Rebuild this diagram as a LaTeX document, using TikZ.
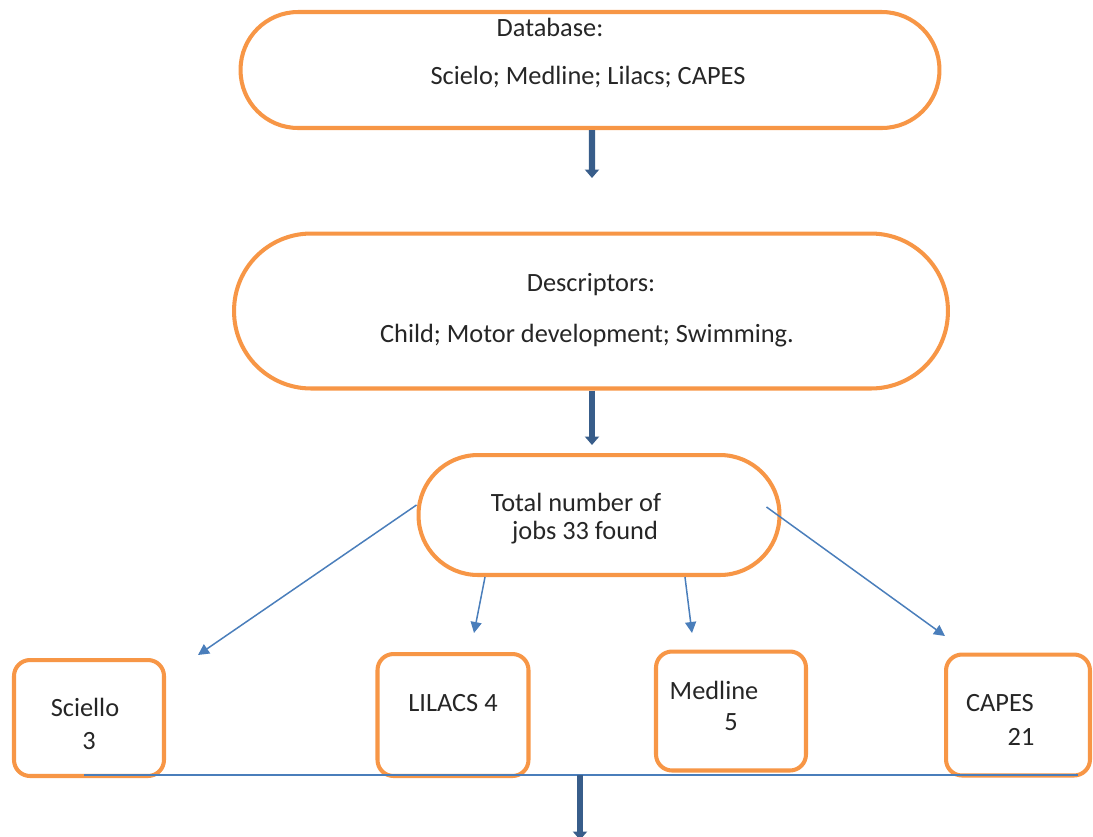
\documentclass[tikz,border=0pt]{standalone}
\usepackage{fontspec}
\setmainfont{Carlito}
\usetikzlibrary{arrows.meta}

\definecolor{boxorange}{HTML}{F79646}
\definecolor{linkblue}{HTML}{4A7EBB}
\definecolor{flowblue}{HTML}{385D8A}

\begin{document}
\begin{tikzpicture}[
    x=0.02cm, y=-0.02cm,
    font=\fontsize{15}{18}\selectfont,
    base/.style={draw=boxorange, line width=2.3pt, fill=white},
    pill/.style={base, rounded corners=1.15cm},
    card/.style={base, rounded corners=0.32cm},
    txt/.style={inner sep=0pt, text=black!85},
    flow/.style={-{Triangle[length=1.7mm, width=2.8mm]}, line width=3.6pt,
                 draw=flowblue},
    link/.style={-{Triangle[length=2.2mm, width=2.2mm]}, line width=0.85pt,
                 draw=linkblue},
  ]
  \useasboundingbox (0,0) rectangle (1093,836);
  % ---- search steps ----
  \node[pill, minimum width=13.98cm, minimum height=2.32cm] (db) at (590,70) {};
  \node[pill, minimum width=14.28cm, minimum height=3.1cm, rounded corners=1.54cm]
    (desc) at (591,311) {};
  \node[pill, minimum width=7.22cm, minimum height=2.4cm, rounded corners=1.19cm]
    (tot) at (599,515) {};
  % ---- results per base ----
  \node[card, minimum width=3cm, minimum height=2.32cm]    (sci) at (89,718) {};
  \node[card, minimum width=3.02cm, minimum height=2.44cm] (lil) at (453,715) {};
  \node[card, minimum width=3cm, minimum height=2.38cm]    (med) at (731,711) {};
  \node[card, minimum width=2.88cm, minimum height=2.42cm] (cap) at (1018,715) {};
  % ---- texts ----
  \node[txt] (dbhead)   at (550,27)  {Database:};
  \node[txt] (dblist)   at (588,77)  {Scielo; Medline; Lilacs; CAPES};
  \node[txt] (deschead) at (591,285) {Descriptors:};
  \node[txt] (desclist) at (587,336) {Child; Motor development; Swimming.};
  \node[txt] (tothead)  at (576,502) {Total number of};
  \node[txt] (totline)  at (585,533) {jobs 33 found};
  \node[txt] (scihead)  at (85,707)  {Sciello};
  \node[txt] (scinum)   at (89,741)  {3};
  \node[txt] (lilhead)  at (453,703) {LILACS 4};
  \node[txt] (medhead)  at (714,690) {Medline};
  \node[txt] (mednum)   at (731,722) {5};
  \node[txt] (caphead)  at (1000,703) {CAPES};
  \node[txt] (capnum)   at (1021,737) {21};
  % ---- free ends ----
  \coordinate (a1) at (592,178);
  \coordinate (a2) at (592,445);
  \coordinate (tosci) at (198,655);
  \coordinate (tolil) at (474,633);
  \coordinate (tomed) at (692,633);
  \coordinate (tocap) at (945,636);
  \coordinate (busl) at (84,775);
  \coordinate (busr) at (1078,775);
  \coordinate (busm) at (580,775);
  \coordinate (down) at (580,840);
  % ---- arrows ----
  \draw[flow] ([xshift=0.04cm]db.south) -- (a1);
  \draw[flow] ([xshift=0.02cm]desc.south) -- (a2);
  \draw[link] ([yshift=0.2cm]tot.west) -- (tosci);
  \draw[link] ([xshift=-2.28cm]tot.south) -- (tolil);
  \draw[link] ([xshift=1.72cm]tot.south) -- (tomed);
  \draw[link] ([xshift=-0.3cm, yshift=0.16cm]tot.east) -- (tocap);
  \draw[line width=0.85pt, draw=linkblue] (busl) -- (busr);
  \draw[flow] (busm) -- (down);
\end{tikzpicture}
\end{document}
